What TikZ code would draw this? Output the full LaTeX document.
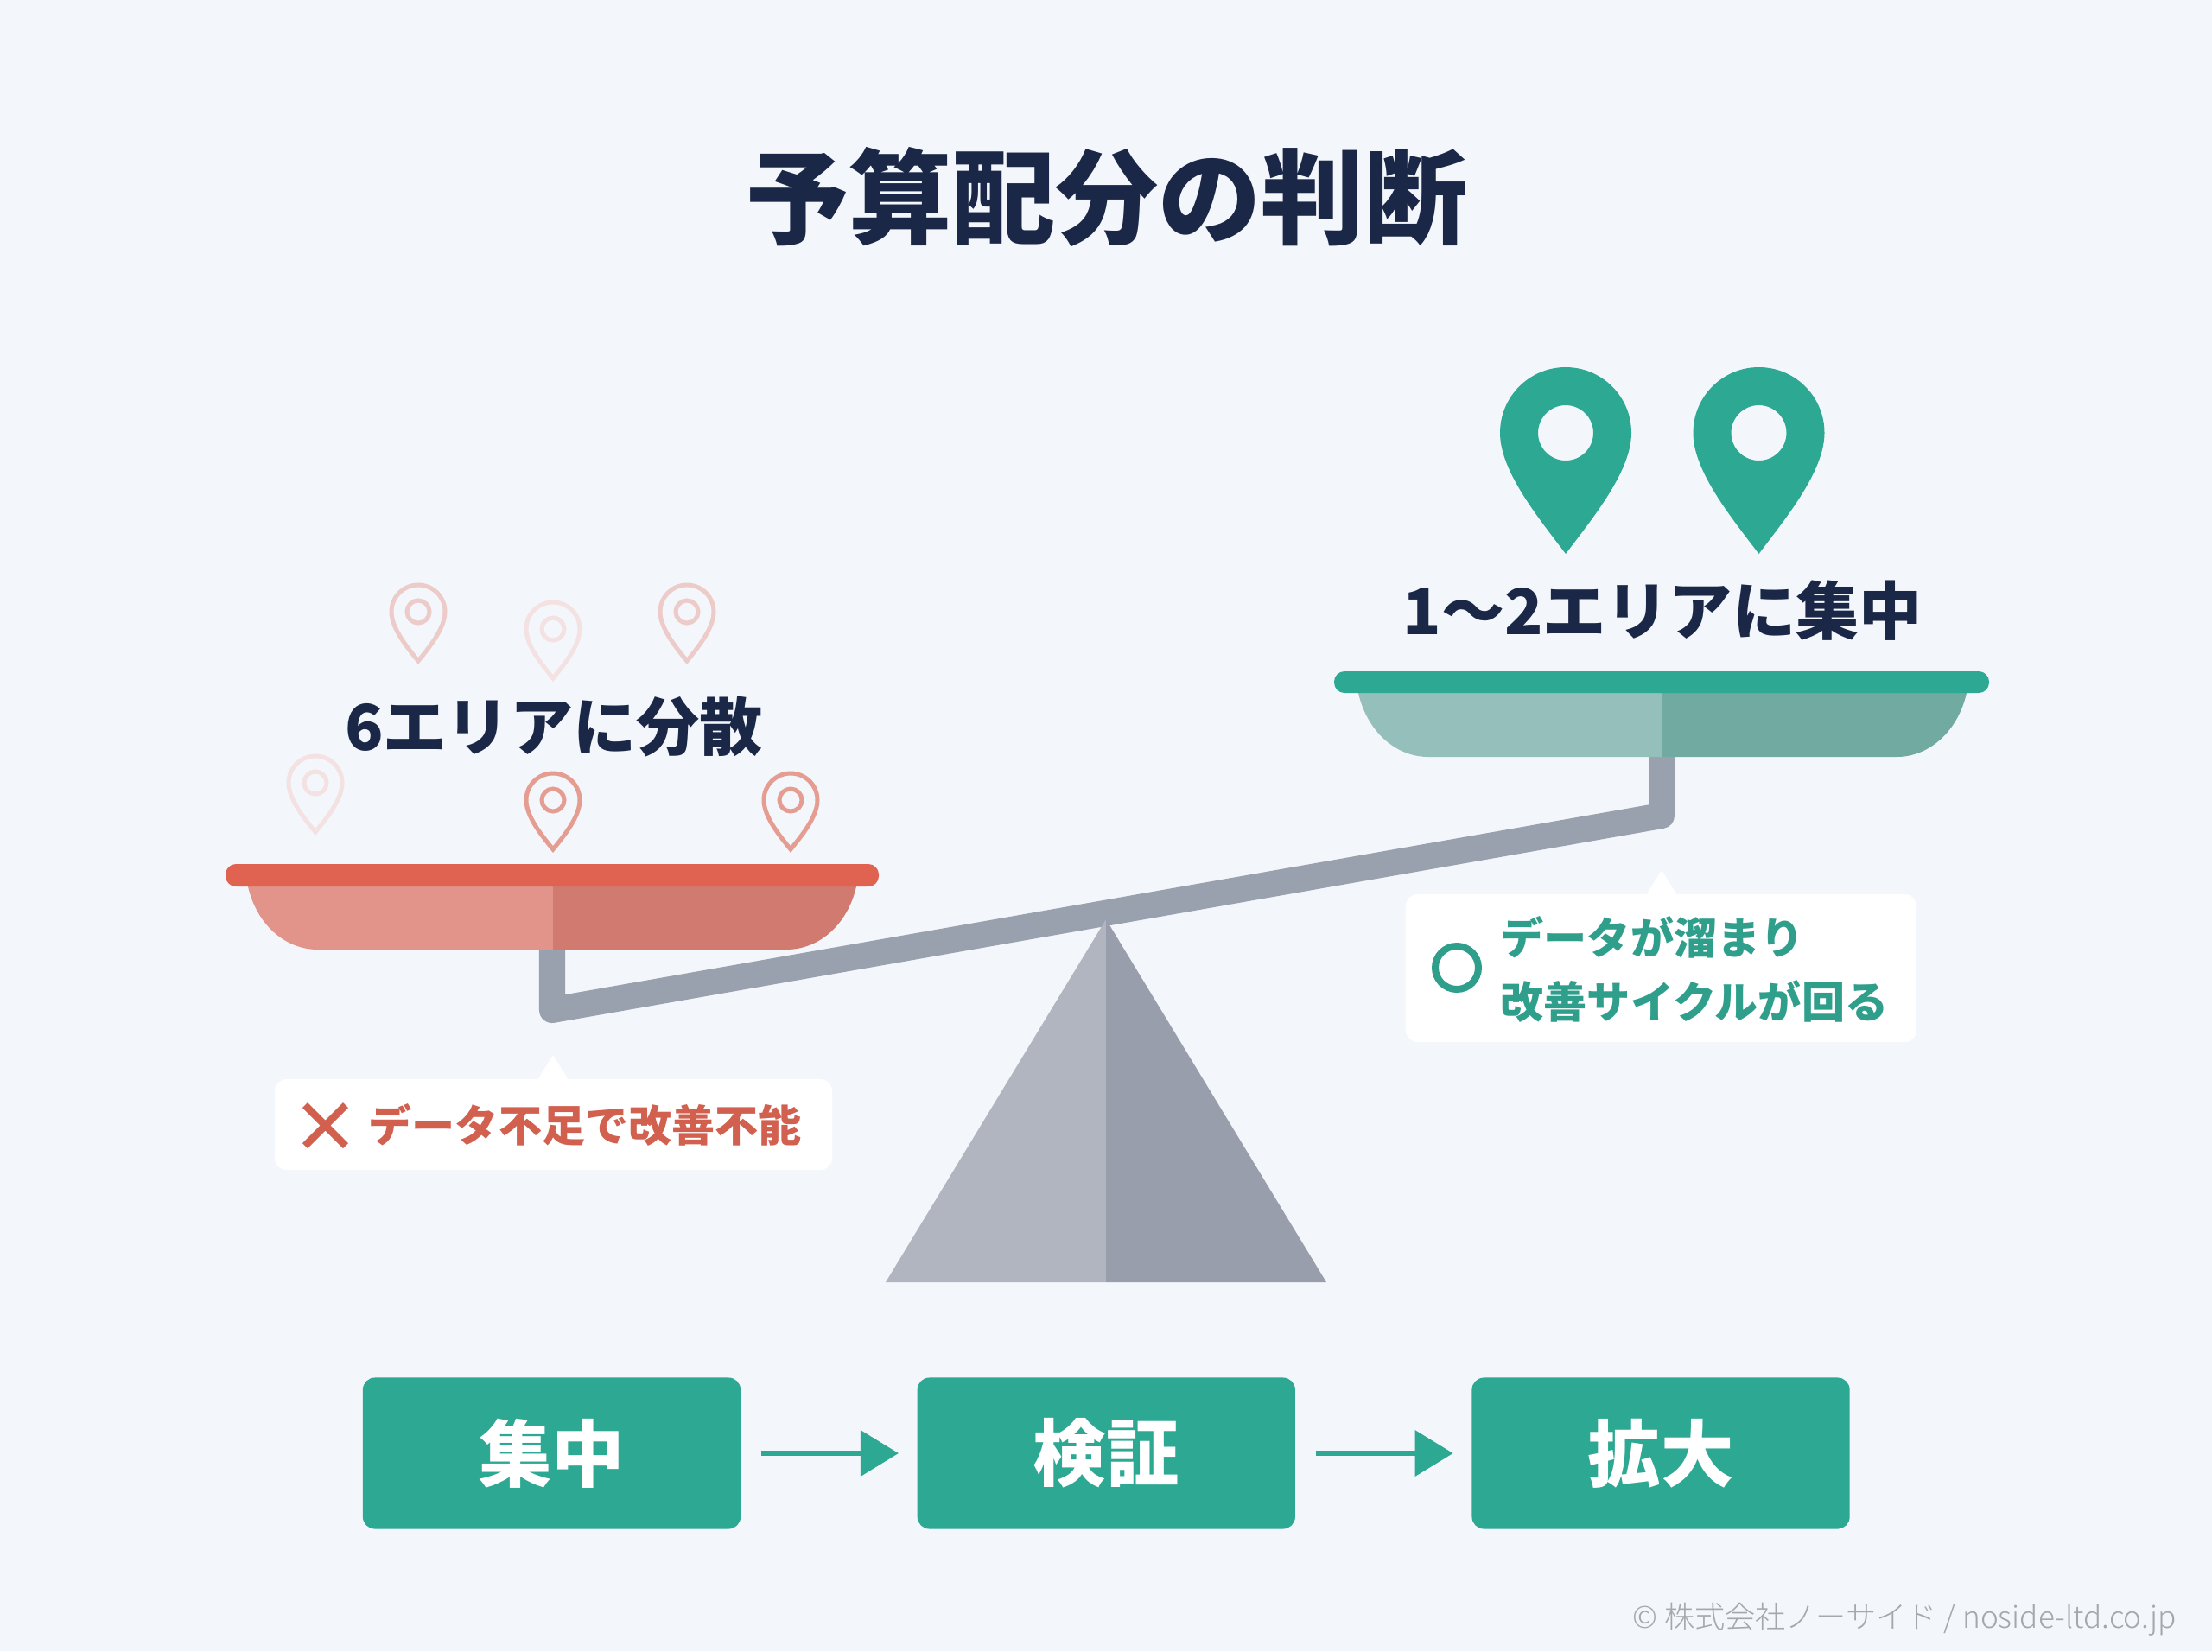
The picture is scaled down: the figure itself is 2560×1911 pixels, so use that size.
\documentclass[tikz,border=0pt]{standalone}
\usepackage{fontspec}
\setmainfont{Noto Sans CJK JP}
\newfontfamily\lightfont{Noto Sans CJK JP Light}
\usetikzlibrary{arrows.meta,positioning}

\definecolor{bgpage}{HTML}{F3F6FB}
\definecolor{navy}{HTML}{1A2746}
\definecolor{teal}{HTML}{2DA893}
\definecolor{tealtext}{HTML}{2F9F8C}
\definecolor{tealbowlL}{HTML}{95BFBA}
\definecolor{tealbowlR}{HTML}{70AAA0}
\definecolor{redrim}{HTML}{DF6350}
\definecolor{redtext}{HTML}{D2604F}
\definecolor{redbowlL}{HTML}{E3948A}
\definecolor{redbowlR}{HTML}{D17A70}
\definecolor{beam}{HTML}{9AA1AE}
\definecolor{triL}{HTML}{B0B5C0}
\definecolor{triR}{HTML}{989EAC}
\definecolor{pinfaint}{HTML}{F3E2E1}
\definecolor{pinmid}{HTML}{ECCBC8}
\definecolor{pinstrong}{HTML}{E59C91}
\definecolor{footgrey}{HTML}{A3A8AD}

\tikzset{
    pinline/.pic={
        \draw[pic actions,line width=0.05cm] (0,57) .. controls (-13,41) and (-31,19) .. (-31,0)
            arc (180:360:31) .. controls (31,19) and (13,41) .. (0,57) -- cycle;
        \draw[pic actions,line width=0.05cm] (0,0) circle (13);
    },
    pinsolid/.pic={
        \fill[teal,even odd rule] (0,140) .. controls (-30,100) and (-76,45) .. (-76,0)
            arc (180:360:76) .. controls (76,45) and (30,100) .. (0,140) -- cycle
            (0,0) circle (32);
    },
    stepbox/.style={fill=teal,rounded corners=0.14cm,minimum width=4.37cm,minimum height=1.75cm,
        text=white,font=\fontsize{24pt}{28pt}\selectfont\bfseries,inner sep=0pt},
    panlabel/.style={text=navy,font=\fontsize{20.8pt}{25pt}\selectfont\bfseries,inner sep=0pt},
    notebox/.style={fill=white,rounded corners=0.14cm,inner sep=0pt},
    notetext/.style={font=\fontsize{14.25pt}{20.8pt}\selectfont\bfseries,inner sep=0pt,anchor=west},
    stepflow/.style={draw=teal,line width=0.065cm,-{Triangle[length=0.44cm,width=0.52cm]},
        shorten <=0.23cm,shorten >=0.21cm}
}

\begin{document}
\begin{tikzpicture}[x=0.01cm,y=-0.01cm]
    \useasboundingbox (0,0) rectangle (2560,1911);
    \fill[bgpage] (0,0) rectangle (2560,1911);

    \node[text=navy,font=\fontsize{33.9pt}{40pt}\selectfont\bfseries,inner sep=0pt] (title) at (1281,228) {予算配分の判断};

    % beam and stand
    \draw[beam,line width=0.3cm,line join=round] (639,1090) -- (639,1169) -- (1923,944) -- (1923,870);
    \fill[triL] (1280,1064) -- (1025,1484) -- (1280,1484) -- cycle;
    \fill[triR] (1280,1064) -- (1535,1484) -- (1280,1484) -- cycle;

    % left pan
    \fill[redbowlL] (287,1026) .. controls (297,1070) and (330,1099) .. (368,1099) -- (640,1099) -- (640,1026) -- cycle;
    \fill[redbowlR] (991,1026) .. controls (981,1070) and (948,1099) .. (910,1099) -- (640,1099) -- (640,1026) -- cycle;
    \fill[redrim,rounded corners=0.12cm] (261,1000) rectangle (1017,1026);

    % right pan
    \fill[tealbowlL] (1572,802) .. controls (1582,846) and (1615,876) .. (1653,876) -- (1923,876) -- (1923,802) -- cycle;
    \fill[tealbowlR] (2276,802) .. controls (2266,846) and (2233,876) .. (2195,876) -- (1923,876) -- (1923,802) -- cycle;
    \fill[teal,rounded corners=0.12cm] (1544,777) rectangle (2302,802);

    % pins
    \foreach \Point/\Tint in {(484,708)/pinmid, (640,728)/pinfaint, (795,708)/pinmid,
                              (365,906)/pinfaint, (640,926)/pinstrong, (915,926)/pinstrong}{
        \pic[draw=\Tint] at \Point {pinline};
    }
    \foreach \Point in {(1812,501), (2035.5,501)}{
        \pic at \Point {pinsolid};
    }

    \node[panlabel] (spread) at (641,841) {6エリアに分散};
    \node[panlabel] (focus) at (1924,707) {1〜2エリアに集中};

    % left note
    \fill[white] (622,1250) -- (640,1221) -- (658,1250) -- cycle;
    \node[notebox,minimum width=6.45cm,minimum height=1.05cm] (badbox) at (640.5,1301.5) {};
    \draw[redtext,line width=0.085cm] (353,1279) -- (400,1326) (400,1279) -- (353,1326);
    \node[notetext,text=redtext] (bad) at (426,1302) {データ不足で改善不能};

    % right note
    \fill[white] (1905,1036) -- (1923,1007) -- (1941,1036) -- cycle;
    \node[notebox,minimum width=5.91cm,minimum height=1.71cm] (goodbox) at (1922.5,1120.5) {};
    \draw[tealtext,line width=0.08cm] (1686,1120) circle (25);
    \node[notetext,text=tealtext,align=left] (good) at (1736,1122) {データが溜まり\\改善サイクルが回る};

    % steps
    \node[stepbox] (shuchu) at (638.5,1682) {集中};
    \node[stepbox,right=2.03cm of shuchu] (kensho) {検証};
    \node[stepbox,right=2.03cm of kensho] (kakudai) {拡大};
    \draw[stepflow] (shuchu) -- (kensho);
    \draw[stepflow] (kensho) -- (kakudai);

    \node[text=footgrey,font=\fontsize{10pt}{12pt}\selectfont\lightfont,inner sep=0pt,anchor=east] (foot) at (2519,1874) {© 株式会社ノーサイド / noside-ltd.co.jp};
\end{tikzpicture}
\end{document}
